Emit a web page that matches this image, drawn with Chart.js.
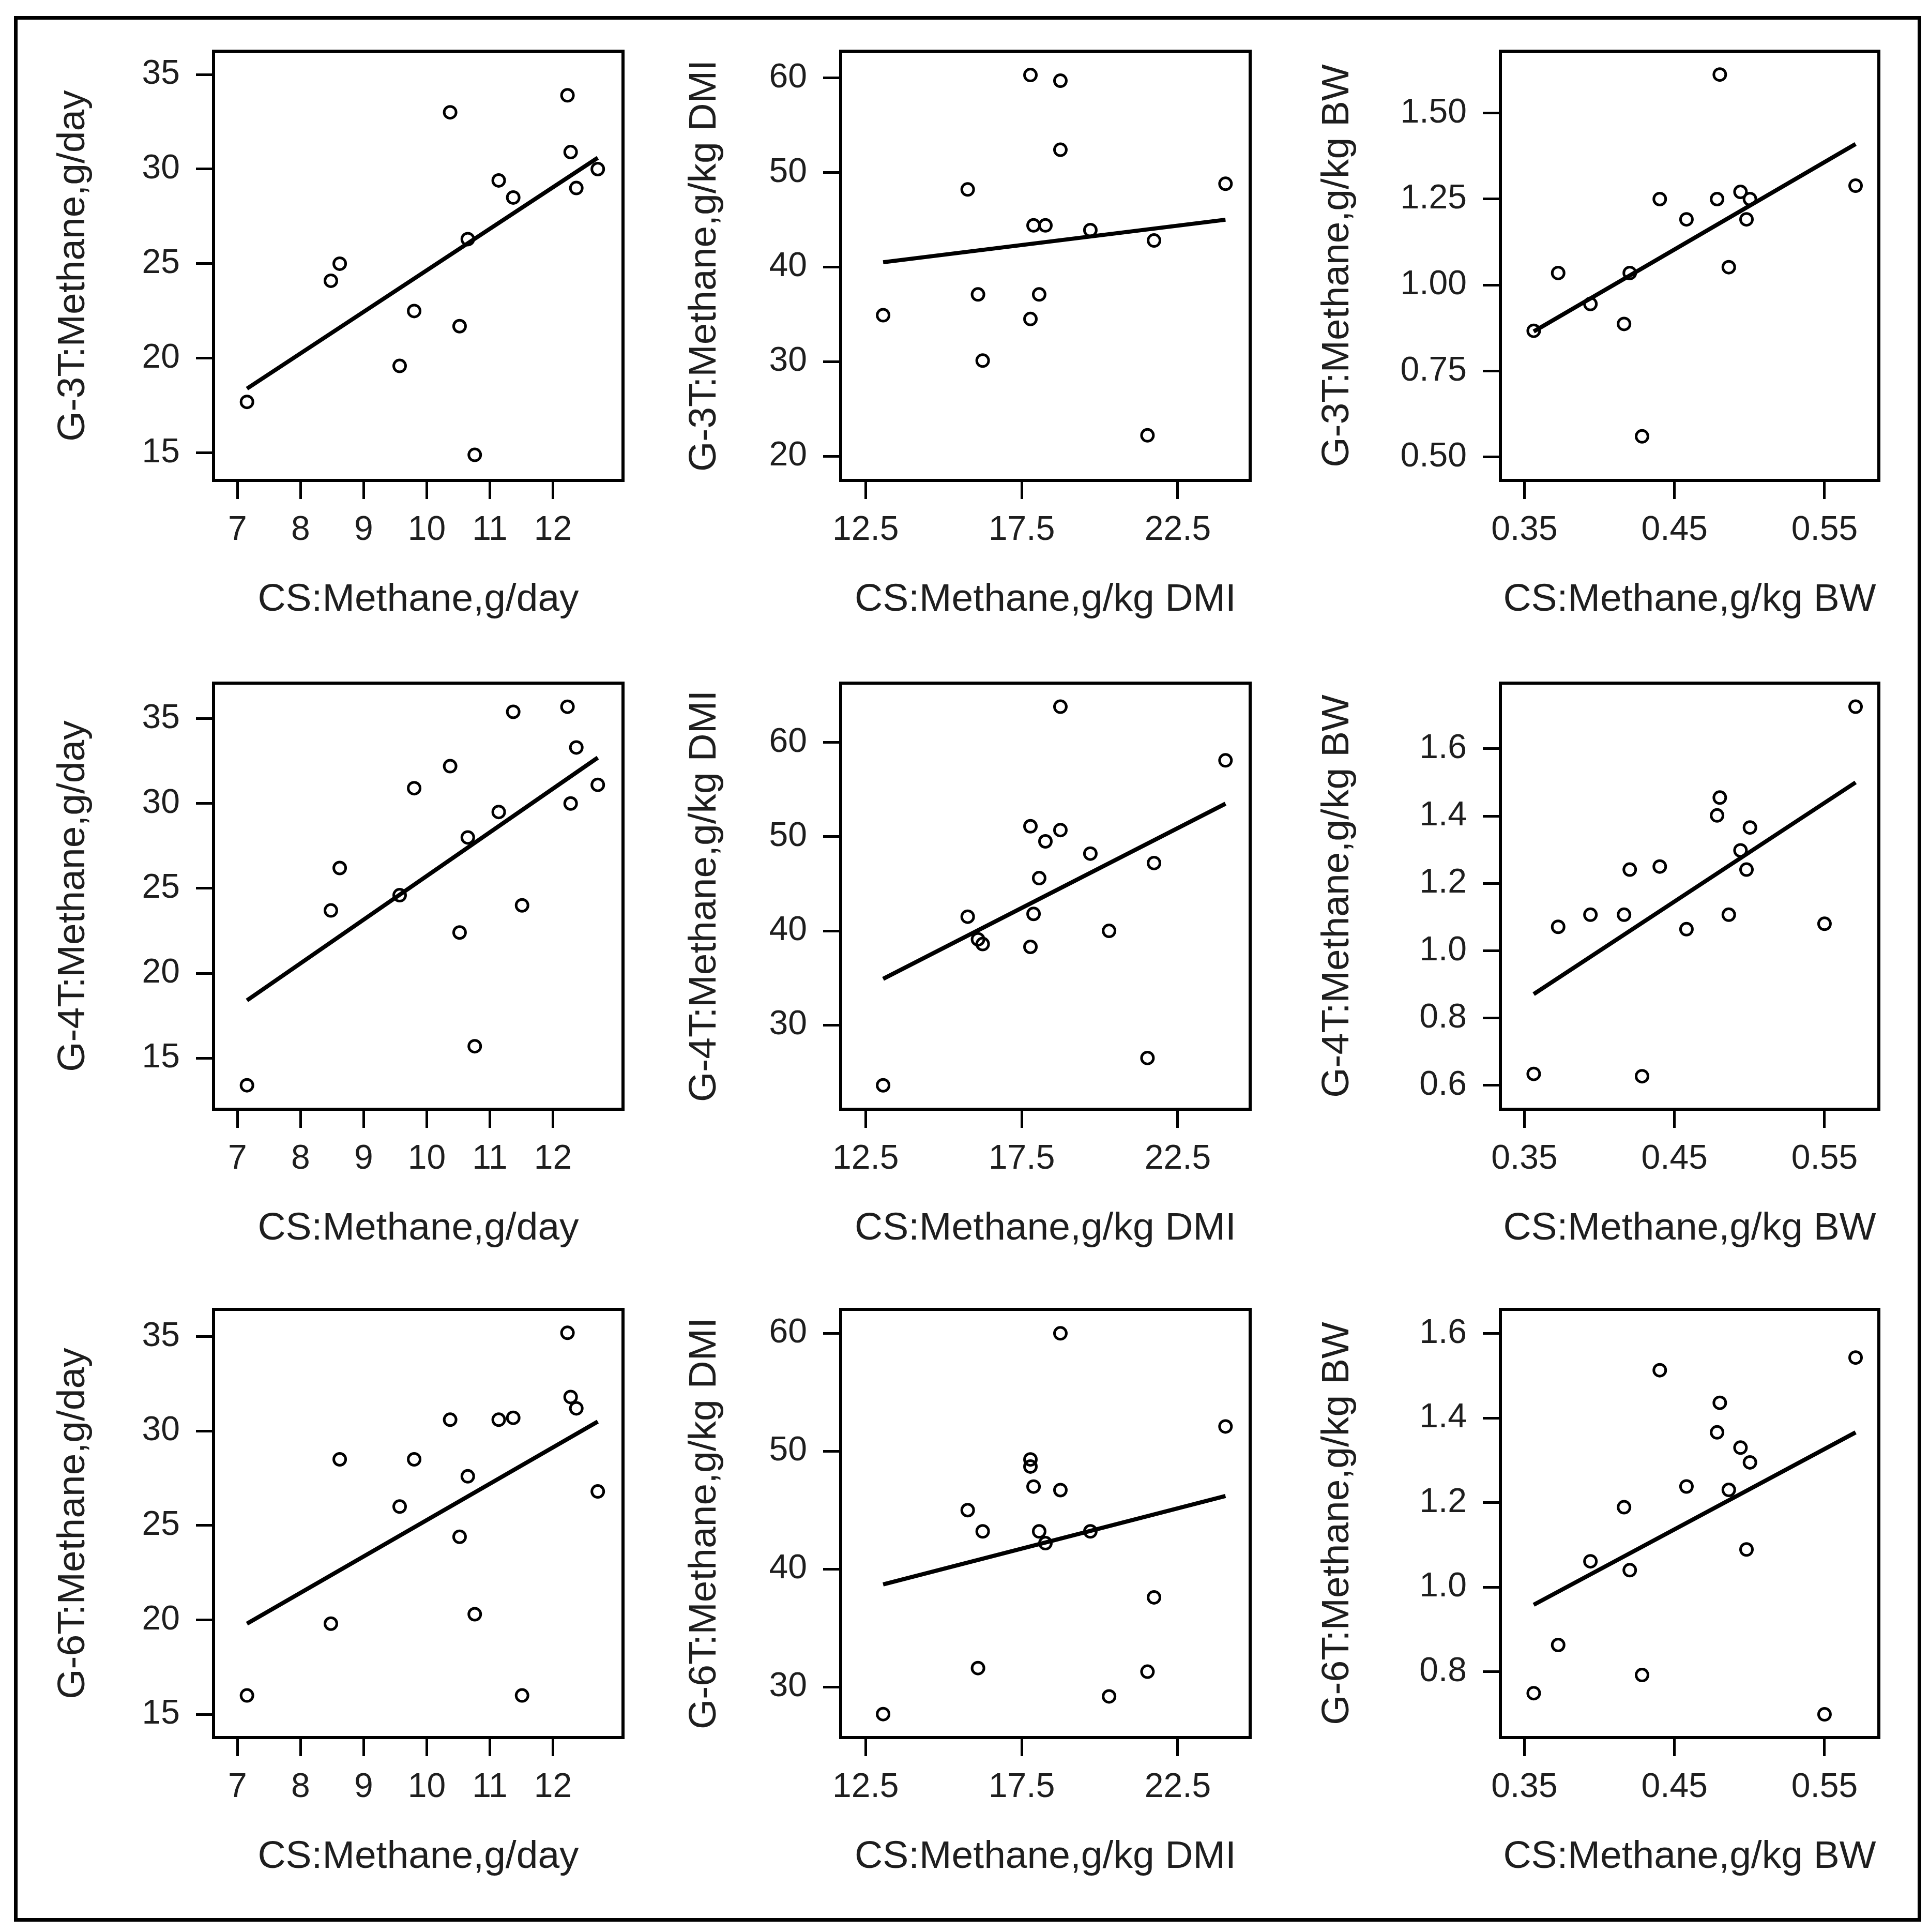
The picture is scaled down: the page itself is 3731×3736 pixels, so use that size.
<!DOCTYPE html>
<html>
<head>
<meta charset="utf-8">
<script src="https://cdn.jsdelivr.net/npm/chart.js@4.4.1/dist/chart.umd.min.js"></script>
<style>
html,body{margin:0;padding:0;background:#fff;width:3731px;height:3736px;overflow:hidden}
#frame{position:absolute;left:27px;top:31px;width:3689px;height:3685px;border:7px solid #000;box-sizing:border-box}
canvas{position:absolute}
</style>
</head>
<body>
<div id="frame"></div>
<script>
// ---------- DATA ----------
// CS (x) values, one per animal
const csDay = [7.15, 8.48, 8.62, 9.57, 9.80, 10.37, 10.52, 10.65, 10.76, 11.14, 11.37, 11.51, 12.23, 12.28, 12.37, 12.71];
const csDmi = [13.06, 15.77, 16.1, 16.25, 17.78, 17.78, 17.88, 18.06, 18.26, 18.74, 18.74, 19.70, 20.30, 21.53, 21.74, 24.03];
const csBw  = [0.3562, 0.3725, 0.394, 0.4164, 0.4202, 0.4284, 0.4402, 0.458, 0.4784, 0.4802, 0.4862, 0.494, 0.498, 0.5003, 0.55, 0.5707];

// G-3T / G-4T / G-6T (y) values
const g3Day = [17.7, 24.1, 25.0, 19.6, 22.5, 33.0, 21.7, 26.3, 14.9, 29.4, 28.5, null, 33.9, 30.9, 29.0, 30.0];
const g4Day = [13.4, 23.7, 26.2, 24.6, 30.9, 32.2, 22.4, 28.0, 15.7, 29.5, 35.4, 24.0, 35.7, 30.0, 33.3, 31.1];
const g6Day = [16.0, 19.8, 28.5, 26.0, 28.5, 30.6, 24.4, 27.6, 20.3, 30.6, 30.7, 16.0, 35.2, 31.8, 31.2, 26.8];

const g3Dmi = [34.9, 48.2, 37.1, 30.1, 60.3, 34.5, 44.4, 37.1, 44.4, 59.7, 52.4, 43.9, null, 22.2, 42.8, 48.8];
const g4Dmi = [23.6, 41.5, 39.1, 38.6, 51.1, 38.3, 41.8, 45.6, 49.5, 63.8, 50.7, 48.2, 40.0, 26.5, 47.2, 58.1];
const g6Dmi = [27.7, 45.0, 31.6, 43.2, 49.3, 48.7, 47.0, 43.2, 42.2, 60.0, 46.7, 43.2, 29.2, 31.3, 37.6, 52.1];

const g3Bw = [0.867, 1.035, 0.945, 0.887, 1.035, 0.56, 1.25, 1.191, 1.25, 1.612, 1.052, 1.271, 1.191, 1.25, null, 1.289];
const g4Bw = [0.634, 1.071, 1.107, 1.107, 1.241, 0.627, 1.25, 1.064, 1.402, 1.455, 1.107, 1.298, 1.241, 1.366, 1.08, 1.725];
const g6Bw = [0.749, 0.863, 1.061, 1.189, 1.04, 0.792, 1.513, 1.238, 1.366, 1.436, 1.23, 1.33, 1.089, 1.295, 0.699, 1.543];

// fitted line: y at smallest and largest x
const fitG3Day = [18.4, 30.6], fitG4Day = [18.4, 32.7], fitG6Day = [19.8, 30.5];
const fitG3Dmi = [40.5, 45.0], fitG4Dmi = [34.9, 53.5], fitG6Dmi = [38.7, 46.2];
const fitG3Bw  = [0.865, 1.41], fitG4Bw = [0.871, 1.50], fitG6Bw = [0.958, 1.366];

// axis titles
const xTitles = ['CS:Methane,g/day', 'CS:Methane,g/kg DMI', 'CS:Methane,g/kg BW'];
const yTitles = [
  ['G-3T:Methane,g/day', 'G-3T:Methane,g/kg DMI', 'G-3T:Methane,g/kg BW'],
  ['G-4T:Methane,g/day', 'G-4T:Methane,g/kg DMI', 'G-4T:Methane,g/kg BW'],
  ['G-6T:Methane,g/day', 'G-6T:Methane,g/kg DMI', 'G-6T:Methane,g/kg BW']
];

// tick labels
const xTicksDay = ['7', '8', '9', '10', '11', '12'];
const xTicksDmi = ['12.5', '17.5', '22.5'];
const xTicksBw  = ['0.35', '0.45', '0.55'];
const yTicksDay = ['15', '20', '25', '30', '35'];
const yTicksDmi3 = ['20', '30', '40', '50', '60'];
const yTicksDmi46 = ['30', '40', '50', '60'];
const yTicksBw3 = ['0.50', '0.75', '1.00', '1.25', '1.50'];
const yTicksBw4 = ['0.6', '0.8', '1.0', '1.2', '1.4', '1.6'];
const yTicksBw6 = ['0.8', '1.0', '1.2', '1.4', '1.6'];

// axis limits
const xLimDay = [6.62, 13.11], xLimDmi = [11.70, 24.82], xLimBw = [0.334, 0.5862];
const yLimG3Day = [13.55, 36.23], yLimG4Day = [11.99, 37.09], yLimG6Day = [13.77, 36.44];
const yLimG3Dmi = [17.43, 62.82], yLimG4Dmi = [21.06, 66.3], yLimG6Dmi = [25.71, 62.03];
const yLimG3Bw  = [0.432, 1.68], yLimG4Bw = [0.529, 1.795], yLimG6Bw = [0.644, 1.657];

// ---------- LAYOUT ----------
const colBox = [[413, 1205], [1626, 2418], [2902, 3634]];
const rowBox = [[99, 929], [1321, 2145], [2532, 3360]];
const yTitlePad = [72, 80, 28];
const Y_AXIS_W = 380, X_AXIS_H = 300, PAD_T = 80, PAD_R = 60;
const FONT = "'Liberation Sans', Arial, sans-serif";
const TXT = '#1e1e1e';

const xCols = [
  {x: csDay, lim: xLimDay, labels: xTicksDay},
  {x: csDmi, lim: xLimDmi, labels: xTicksDmi},
  {x: csBw,  lim: xLimBw,  labels: xTicksBw}
];
const panelRows = [
  [{y: g3Day, fit: fitG3Day, lim: yLimG3Day, labels: yTicksDay},
   {y: g3Dmi, fit: fitG3Dmi, lim: yLimG3Dmi, labels: yTicksDmi3},
   {y: g3Bw,  fit: fitG3Bw,  lim: yLimG3Bw,  labels: yTicksBw3}],
  [{y: g4Day, fit: fitG4Day, lim: yLimG4Day, labels: yTicksDay},
   {y: g4Dmi, fit: fitG4Dmi, lim: yLimG4Dmi, labels: yTicksDmi46},
   {y: g4Bw,  fit: fitG4Bw,  lim: yLimG4Bw,  labels: yTicksBw4}],
  [{y: g6Day, fit: fitG6Day, lim: yLimG6Day, labels: yTicksDay},
   {y: g6Dmi, fit: fitG6Dmi, lim: yLimG6Dmi, labels: yTicksDmi46},
   {y: g6Bw,  fit: fitG6Bw,  lim: yLimG6Bw,  labels: yTicksBw6}]
];

const boxPlugin = {
  id: 'plotBox',
  afterDatasetsDraw(chart) {
    const {ctx, chartArea: a} = chart;
    ctx.save();
    ctx.strokeStyle = '#000';
    ctx.lineWidth = 6;
    ctx.strokeRect(a.left, a.top, a.right - a.left, a.bottom - a.top);
    ctx.restore();
  }
};

function makePanel(r, c) {
  const col = xCols[c], p = panelRows[r][c];
  const [bl, br] = colBox[c], [bt, bb] = rowBox[r];
  const cv = document.createElement('canvas');
  const w = Y_AXIS_W + (br - bl) + PAD_R, h = PAD_T + (bb - bt) + X_AXIS_H;
  cv.width = w; cv.height = h;
  cv.style.left = (bl - Y_AXIS_W) + 'px';
  cv.style.top = (bt - PAD_T) + 'px';
  cv.style.width = w + 'px'; cv.style.height = h + 'px';
  document.body.appendChild(cv);

  const pts = [];
  col.x.forEach((xv, i) => { if (p.y[i] !== null) pts.push({x: xv, y: p.y[i]}); });
  const xs = pts.map(d => d.x);
  const xMin = Math.min(...xs), xMax = Math.max(...xs);
  const xVals = col.labels.map(Number), yVals = p.labels.map(Number);

  new Chart(cv, {
    type: 'scatter',
    data: {
      datasets: [
        {
          type: 'line',
          data: [{x: xMin, y: p.fit[0]}, {x: xMax, y: p.fit[1]}],
          borderColor: '#000', borderWidth: 8, pointRadius: 0,
          showLine: true, fill: false, borderCapStyle: 'butt'
        },
        {
          data: pts,
          pointStyle: 'circle', pointRadius: 11.5, pointBorderWidth: 5,
          pointBorderColor: '#000', pointBackgroundColor: 'rgba(255,255,255,0)',
          showLine: false
        }
      ]
    },
    options: {
      responsive: false, animation: false, devicePixelRatio: 1,
      layout: {padding: {top: PAD_T, right: PAD_R, left: 0, bottom: 0}},
      plugins: {legend: {display: false}, tooltip: {enabled: false}},
      events: [],
      scales: {
        x: {
          type: 'linear', position: 'bottom', bounds: 'data',
          min: col.lim[0], max: col.lim[1],
          afterBuildTicks: s => { s.ticks = xVals.map(v => ({value: v})); },
          afterFit: s => { s.height = X_AXIS_H; },
          ticks: {
            callback: (v, i) => col.labels[i], autoSkip: false, maxRotation: 0, minRotation: 0,
            padding: 28, color: TXT, font: {family: FONT, size: 66, lineHeight: 1}
          },
          grid: {drawOnChartArea: false, drawTicks: true, tickLength: 36, tickWidth: 5, tickColor: '#000'},
          border: {display: false},
          title: {display: true, text: xTitles[c], color: TXT,
                  font: {family: FONT, size: 75, lineHeight: 1}, padding: {top: 0, bottom: 31}}
        },
        y: {
          type: 'linear', position: 'left', bounds: 'data',
          min: p.lim[0], max: p.lim[1],
          afterBuildTicks: s => { s.ticks = yVals.map(v => ({value: v})); },
          afterFit: s => { s.width = Y_AXIS_W; },
          ticks: {
            callback: (v, i) => p.labels[i], autoSkip: false,
            padding: 31, color: TXT, font: {family: FONT, size: 66, lineHeight: 1}
          },
          grid: {drawOnChartArea: false, drawTicks: true, tickLength: 34, tickWidth: 5, tickColor: '#000'},
          border: {display: false},
          title: {display: true, text: yTitles[r][c], color: TXT,
                  font: {family: FONT, size: 75, lineHeight: 1}, padding: {top: yTitlePad[c], bottom: 0}}
        }
      }
    },
    plugins: [boxPlugin]
  });
}

for (let r = 0; r < 3; r++) for (let c = 0; c < 3; c++) makePanel(r, c);
</script>
</body>
</html>
